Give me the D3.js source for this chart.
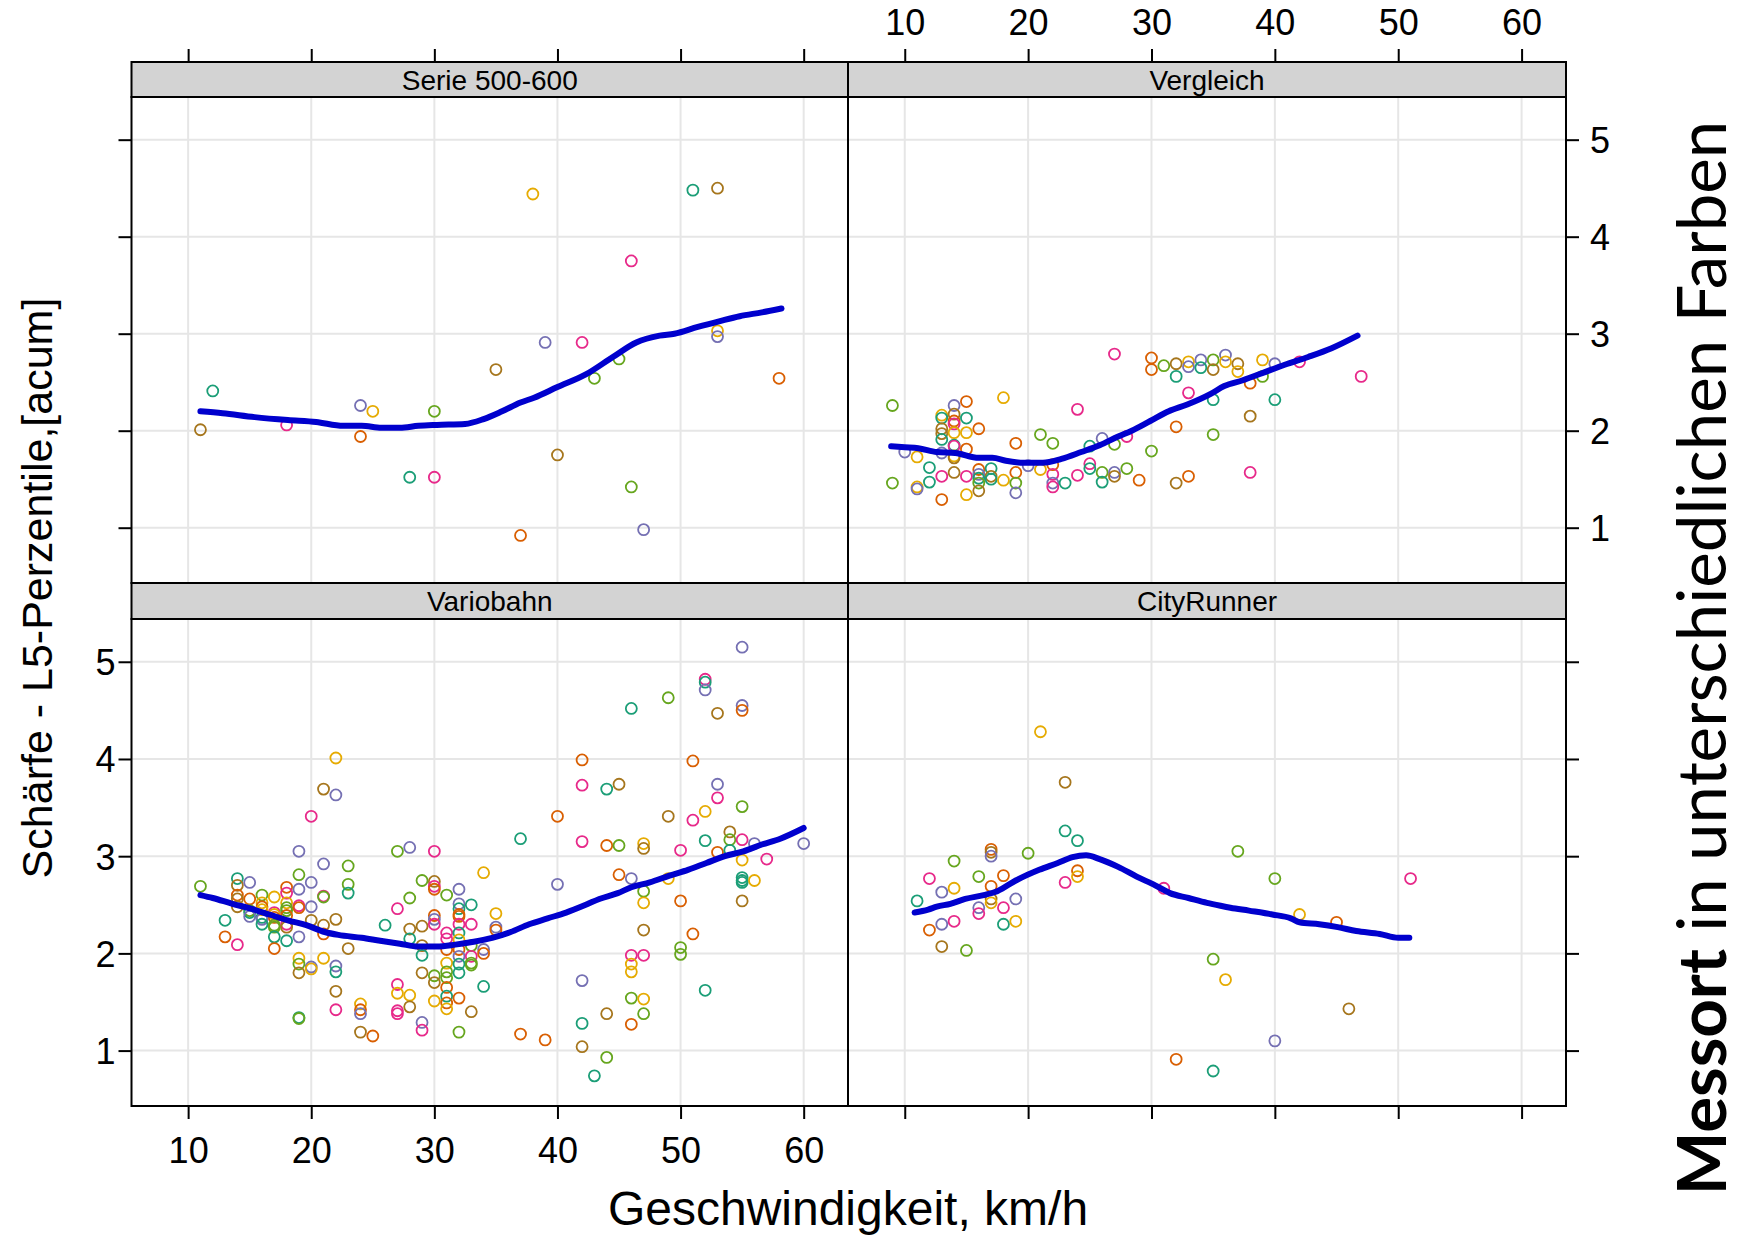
<!DOCTYPE html>
<html lang="de">
<head>
<meta charset="UTF-8">
<title>Schärfe L5-Perzentile nach Geschwindigkeit</title>
<script src="https://cdn.jsdelivr.net/npm/d3@7"></script>
<style>
  body { margin: 0; background: #fff; }
  svg { display: block; }
  .tick text { font-family: "Liberation Sans", Arial, sans-serif; font-size: 36px; fill: #000; }
</style>
</head>
<body>
<script>
// Messort -> Farbe (Dark2)
const messortColors = ['#1B9E77', '#D95F02', '#7570B3', '#E7298A', '#66A61E', '#E6AB02', '#A6761D'];

const xTicks = [10, 20, 30, 40, 50, 60];
const yTicks = [1, 2, 3, 4, 5];

// Punkte: [Geschwindigkeit, L5, Messort-Index]
const serie = [
  [11,2.01,6],[12,2.41,0],[18,2.06,3],[24,2.26,2],[25,2.20,5],[24,1.94,1],[30,2.20,4],[28,1.52,0],
  [30,1.52,3],[35,2.63,6],[38,4.44,5],[37,0.92,1],[39,2.91,2],[40,1.75,6],[42,2.91,3],[43,2.54,4],
  [45,2.74,4],[46,3.75,3],[46,1.42,4],[47,0.98,2],[51,4.48,0],[53,4.50,6],[53,3.03,5],[53,2.97,2],
  [58,2.54,1]
];

const vergleich = [
  [9,2.26,4],[9,1.46,4],[10,1.78,2],[11,1.73,5],[11,1.42,5],[11,1.40,2],[12,1.62,0],[12,1.47,0],
  [13,2.16,5],[13,2.13,0],[13,2.02,6],[13,1.97,6],[13,1.91,0],[13,1.77,2],[13,1.53,3],[13,1.29,1],
  [14,2.26,2],[14,2.17,6],[14,2.10,1],[14,2.07,3],[14,1.98,5],[14,1.85,0],[14,1.84,3],[14,1.74,5],
  [14,1.72,6],[14,1.57,6],[15,2.30,1],[15,2.13,0],[15,1.98,5],[15,1.81,1],[15,1.53,3],[15,1.34,5],
  [16,2.02,1],[16,1.60,1],[16,1.55,2],[16,1.51,0],[16,1.46,4],[16,1.38,6],[17,1.61,0],[17,1.53,6],
  [17,1.50,0],[18,2.34,5],[18,1.49,5],[19,1.87,1],[19,1.57,1],[19,1.46,4],[19,1.36,2],[20,1.64,2],
  [21,1.96,4],[21,1.60,5],[22,1.87,4],[22,1.65,1],[22,1.55,3],[22,1.46,2],[22,1.42,3],[23,1.46,0],
  [24,2.22,3],[24,1.54,3],[25,1.84,0],[25,1.66,3],[25,1.61,0],[26,1.92,2],[26,1.57,4],[26,1.47,0],
  [27,2.79,3],[27,1.86,4],[27,1.57,2],[27,1.53,6],[28,1.94,3],[28,1.61,4],[29,1.49,1],[30,2.75,1],
  [30,2.63,1],[30,1.79,4],[31,2.67,4],[32,2.69,6],[32,2.56,0],[32,2.04,1],[32,1.46,6],[33,2.71,5],
  [33,2.66,2],[33,2.39,3],[33,1.53,1],[34,2.73,2],[34,2.65,0],[35,2.73,4],[35,2.63,6],[35,2.32,0],
  [35,1.96,4],[36,2.78,2],[36,2.71,5],[37,2.69,6],[37,2.61,5],[38,2.49,1],[38,2.15,6],[38,1.57,3],
  [39,2.73,5],[39,2.56,4],[40,2.69,2],[40,2.32,0],[42,2.71,3],[47,2.56,3]
];

const variobahn = [
  [11,2.69,4],[13,2.34,0],[13,2.17,1],
  [14,2.77,0],[14,2.70,6],[14,2.60,1],[14,2.56,6],[14,2.48,6],[14,2.09,3],
  [15,2.73,2],[15,2.56,1],[15,2.44,4],[15,2.42,0],[15,2.38,2],
  [16,2.60,4],[16,2.52,5],[16,2.48,1],[16,2.45,5],[16,2.37,0],[16,2.35,2],[16,2.30,0],
  [17,2.58,5],[17,2.42,3],[17,2.40,5],[17,2.37,1],[17,2.29,4],[17,2.27,4],[17,2.17,0],[17,2.05,1],
  [18,2.68,1],[18,2.62,3],[18,2.52,5],[18,2.47,4],[18,2.44,4],[18,2.39,1],[18,2.30,3],[18,2.27,6],[18,2.13,0],
  [19,3.05,2],[19,2.81,4],[19,2.66,2],[19,2.49,3],[19,2.47,1],[19,2.17,2],[19,1.95,5],[19,1.89,4],[19,1.80,6],[19,1.34,0],[19,1.33,4],
  [20,3.41,3],[20,2.73,2],[20,2.48,2],[20,2.34,6],[20,1.86,2],[20,1.84,5],
  [21,3.69,6],[21,2.92,2],[21,2.59,3],[21,2.58,4],[21,2.29,6],[21,2.20,1],[21,1.95,5],
  [22,4.01,5],[22,3.63,2],[22,2.35,6],[22,1.87,2],[22,1.81,0],[22,1.61,6],[22,1.42,3],
  [23,2.90,4],[23,2.71,4],[23,2.62,0],[23,2.05,6],
  [24,1.48,5],[24,1.42,1],[24,1.38,2],[24,1.19,6],[25,1.15,1],[26,2.29,0],
  [27,3.05,4],[27,2.46,3],[27,1.68,3],[27,1.59,5],[27,1.41,3],[27,1.38,3],
  [28,3.09,2],[28,2.57,4],[28,2.25,6],[28,2.15,0],[28,1.57,5],[28,1.45,6],
  [29,2.75,4],[29,2.28,6],[29,2.08,6],[29,1.98,0],[29,1.80,6],[29,1.29,2],[29,1.21,3],
  [30,3.05,3],[30,2.74,6],[30,2.69,3],[30,2.66,1],[30,2.39,1],[30,2.35,2],[30,2.30,3],[30,1.77,4],[30,1.70,6],[30,1.51,5],
  [31,2.60,4],[31,2.21,3],[31,2.15,3],[31,2.04,1],[31,1.90,5],[31,1.81,4],[31,1.75,4],[31,1.65,1],[31,1.56,0],[31,1.49,1],[31,1.43,5],
  [32,2.66,2],[32,2.51,2],[32,2.46,0],[32,2.40,1],[32,2.38,1],[32,2.30,3],[32,2.21,0],[32,2.14,5],[32,2.04,1],[32,1.97,2],[32,1.89,0],[32,1.80,0],[32,1.54,1],[32,1.19,4],
  [33,2.50,0],[33,2.30,3],[33,2.08,4],[33,1.97,3],[33,1.90,4],[33,1.88,4],[33,1.40,6],
  [34,2.83,5],[34,2.04,2],[34,2.00,1],[34,1.66,0],[35,2.41,5],[35,2.27,2],[35,2.24,1],
  [37,3.18,0],[37,1.17,1],[39,1.11,1],[40,3.41,1],[40,2.71,2],
  [42,3.99,1],[42,3.73,3],[42,3.15,3],[42,1.72,2],[42,1.28,0],[42,1.04,6],[43,0.74,0],
  [44,3.69,0],[44,3.11,1],[44,1.38,6],[44,0.93,4],[45,3.74,6],[45,3.11,4],[45,2.81,1],
  [46,4.52,0],[46,2.77,2],[46,1.98,3],[46,1.89,5],[46,1.81,5],[46,1.54,4],[46,1.27,1],
  [47,3.13,5],[47,3.08,6],[47,2.64,4],[47,2.52,5],[47,2.24,6],[47,1.98,3],[47,1.53,5],[47,1.38,4],
  [49,4.63,4],[49,3.41,6],[49,2.77,5],[50,3.06,3],[50,2.54,1],[50,2.06,4],[50,1.99,4],
  [51,3.98,1],[51,3.37,3],[51,2.20,1],
  [52,4.82,3],[52,4.79,0],[52,4.71,2],[52,3.46,5],[52,3.16,0],[52,1.62,0],
  [53,4.47,6],[53,3.74,2],[53,3.60,3],[53,3.04,1],[54,3.25,6],[54,3.17,4],[54,3.06,0],
  [55,5.15,2],[55,4.55,2],[55,4.50,1],[55,3.51,4],[55,3.17,3],[55,2.96,5],[55,2.78,0],[55,2.75,0],[55,2.73,0],[55,2.54,6],
  [56,3.13,2],[56,2.75,5],[57,2.97,3],[60,3.13,2]
];

const cityRunner = [
  [11,2.54,0],[12,2.77,3],[12,2.24,1],[13,2.63,2],[13,2.30,2],[13,2.07,6],[14,2.95,4],[14,2.67,5],
  [14,2.33,3],[15,2.03,4],[16,2.79,4],[16,2.47,2],[16,2.41,3],[17,3.07,1],[17,3.04,6],[17,3.00,2],
  [17,2.69,1],[17,2.56,6],[17,2.52,5],[18,2.80,1],[18,2.47,3],[18,2.30,0],[19,2.56,2],[19,2.33,5],
  [20,3.03,4],[21,4.28,5],[23,3.76,6],[23,3.26,0],[23,2.73,3],[24,3.16,0],[24,2.85,1],[24,2.79,5],
  [31,2.67,3],[32,0.91,1],[35,1.94,4],[35,0.79,0],[36,1.73,5],[37,3.05,4],[40,2.77,4],[40,1.10,2],
  [42,2.40,5],[45,2.32,1],[46,1.43,6],[51,2.77,3]
];

// Glättungskurven: [Geschwindigkeit, L5]
const serieLine = [
  [11.0,2.20],[12.8,2.18],[15.4,2.14],[18.1,2.11],[20.4,2.09],[22.6,2.05],[24.1,2.05],[25.7,2.03],
  [27.2,2.03],[28.7,2.05],[30.2,2.06],[32.5,2.07],[34.0,2.12],[35.5,2.20],[37.0,2.29],[38.1,2.34],
  [40.0,2.45],[42.3,2.58],[44.5,2.76],[46.4,2.91],[48.3,2.98],[49.5,3.00],[51.4,3.07],[53.2,3.13],
  [54.8,3.18],[56.6,3.22],[58.2,3.26]
];
const vergleichLine = [
  [8.9,1.84],[10.0,1.83],[11.1,1.82],[12.6,1.78],[14.1,1.77],[16.0,1.72],[17.1,1.72],[18.2,1.69],
  [19.7,1.67],[21.2,1.67],[22.7,1.71],[24.3,1.78],[25.8,1.85],[27.3,1.94],[28.4,2.00],[29.9,2.10],
  [31.4,2.20],[32.9,2.27],[34.8,2.38],[35.9,2.46],[37.4,2.52],[38.9,2.59],[40.8,2.68],[42.7,2.76],
  [44.6,2.85],[46.7,2.98]
];
const variobahnLine = [
  [11.0,2.60],[12.0,2.57],[13.6,2.51],[15.1,2.46],[16.6,2.40],[18.1,2.34],[19.6,2.29],[21.1,2.22],
  [22.2,2.19],[24.1,2.16],[25.6,2.13],[27.2,2.10],[28.7,2.07],[30.2,2.07],[31.7,2.09],[33.2,2.12],
  [34.7,2.16],[36.2,2.22],[37.7,2.30],[39.2,2.36],[40.7,2.42],[42.3,2.50],[43.4,2.56],[44.9,2.62],
  [46.0,2.68],[47.5,2.73],[49.1,2.80],[50.6,2.86],[52.1,2.93],[53.6,3.00],[55.1,3.05],[56.6,3.12],
  [58.1,3.18],[60.0,3.29]
];
const cityRunnerLine = [
  [10.8,2.42],[11.9,2.45],[12.6,2.48],[13.7,2.51],[14.9,2.56],[16.4,2.60],[17.5,2.64],[19.0,2.75],
  [20.9,2.86],[22.4,2.93],[23.6,2.99],[24.7,3.01],[25.8,2.97],[27.3,2.89],[28.8,2.79],[30.3,2.70],
  [31.5,2.62],[33.0,2.57],[34.5,2.52],[35.6,2.49],[36.4,2.47],[37.9,2.44],[39.8,2.40],[41.3,2.36],
  [42.0,2.32],[43.6,2.30],[45.1,2.27],[46.6,2.23],[48.5,2.20],[50.0,2.16],[50.9,2.16]
];

const W = 1742, H = 1239;
const xDomain = [5.4, 63.6];
const yDomain = [0.43, 5.44];
const cols = [[131.5, 848], [848, 1566]];
const rows = [{strip: 62, top: 97, bot: 583}, {strip: 583, top: 619, bot: 1106}];
const tickLen = 13;

const panels = [
  {name: 'Serie 500-600', pts: serie, line: serieLine, col: 0, row: 0},
  {name: 'Vergleich', pts: vergleich, line: vergleichLine, col: 1, row: 0},
  {name: 'Variobahn', pts: variobahn, line: variobahnLine, col: 0, row: 1},
  {name: 'CityRunner', pts: cityRunner, line: cityRunnerLine, col: 1, row: 1}
];

const svg = d3.select('body').append('svg')
  .attr('width', W).attr('height', H)
  .attr('font-family', '"Liberation Sans", Arial, sans-serif');

const defs = svg.append('defs');

panels.forEach((p, i) => {
  const [x0, x1] = cols[p.col];
  const r = rows[p.row];
  const x = d3.scaleLinear().domain(xDomain).range([x0, x1]);
  const y = d3.scaleLinear().domain(yDomain).range([r.bot, r.top]);
  const g = svg.append('g');

  defs.append('clipPath').attr('id', 'clip' + i)
    .append('rect').attr('x', x0).attr('y', r.top).attr('width', x1 - x0).attr('height', r.bot - r.top);

  // Gitter
  g.append('g').selectAll('line').data(xTicks).join('line')
    .attr('x1', d => x(d)).attr('x2', d => x(d)).attr('y1', r.top).attr('y2', r.bot)
    .attr('stroke', '#e6e6e6').attr('stroke-width', 2);
  g.append('g').selectAll('line').data(yTicks).join('line')
    .attr('y1', d => y(d)).attr('y2', d => y(d)).attr('x1', x0).attr('x2', x1)
    .attr('stroke', '#e6e6e6').attr('stroke-width', 2);

  const inner = g.append('g').attr('clip-path', `url(#clip${i})`);
  inner.selectAll('circle').data(p.pts).join('circle')
    .attr('cx', d => x(d[0])).attr('cy', d => y(d[1])).attr('r', 5.5)
    .attr('fill', 'none').attr('stroke', d => messortColors[d[2]]).attr('stroke-width', 1.8);

  inner.append('path').datum(p.line)
    .attr('d', d3.line().x(d => x(d[0])).y(d => y(d[1])).curve(d3.curveMonotoneX))
    .attr('fill', 'none').attr('stroke', '#0000CD').attr('stroke-width', 6)
    .attr('stroke-linecap', 'round').attr('stroke-linejoin', 'round');

  g.append('rect').attr('x', x0).attr('y', r.top).attr('width', x1 - x0).attr('height', r.bot - r.top)
    .attr('fill', 'none').attr('stroke', '#000').attr('stroke-width', 2);

  // Streifen
  g.append('rect').attr('x', x0).attr('y', r.strip).attr('width', x1 - x0).attr('height', r.top - r.strip)
    .attr('fill', '#d3d3d3').attr('stroke', '#000').attr('stroke-width', 2);
  g.append('text').attr('x', (x0 + x1) / 2).attr('y', (r.strip + r.top) / 2 + 10)
    .attr('text-anchor', 'middle').attr('font-size', 28).text(p.name);

  const styleAxis = (sel) => {
    sel.select('.domain').remove();
    sel.selectAll('.tick line').attr('stroke', '#000').attr('stroke-width', 2);
  };

  // x-Achse
  if (p.row === 0) {
    const ax = svg.append('g').attr('transform', `translate(0,${r.strip})`)
      .call(d3.axisTop(x).tickValues(xTicks).tickSize(tickLen).tickSizeOuter(0)
        .tickFormat(p.col === 1 ? d3.format('d') : ''));
    styleAxis(ax);
    ax.selectAll('.tick text').attr('y', -27).attr('dy', 0);
  } else {
    const ax = svg.append('g').attr('transform', `translate(0,${r.bot})`)
      .call(d3.axisBottom(x).tickValues(xTicks).tickSize(tickLen).tickSizeOuter(0)
        .tickFormat(p.col === 0 ? d3.format('d') : ''));
    styleAxis(ax);
    ax.selectAll('.tick text').attr('y', 57).attr('dy', 0);
  }

  // y-Achse
  if (p.col === 0) {
    const ay = svg.append('g').attr('transform', `translate(${x0},0)`)
      .call(d3.axisLeft(y).tickValues(yTicks).tickSize(tickLen).tickSizeOuter(0)
        .tickFormat(p.row === 1 ? d3.format('d') : ''));
    styleAxis(ay);
    ay.selectAll('.tick text').attr('x', -16).attr('dy', '0.36em');
  } else {
    const ay = svg.append('g').attr('transform', `translate(${x1},0)`)
      .call(d3.axisRight(y).tickValues(yTicks).tickSize(tickLen).tickSizeOuter(0)
        .tickFormat(p.row === 0 ? d3.format('d') : ''));
    styleAxis(ay);
    ay.selectAll('.tick text').attr('x', 24).attr('dy', '0.36em');
  }
});

// Achsentitel
svg.append('text')
  .attr('x', 848).attr('y', 1225)
  .attr('text-anchor', 'middle').attr('font-size', 48)
  .text('Geschwindigkeit, km/h');

svg.append('text')
  .attr('transform', 'translate(52,588) rotate(-90)')
  .attr('text-anchor', 'middle').attr('font-size', 43)
  .text('Schärfe - L5-Perzentile,[acum]');

const rt = svg.append('text')
  .attr('transform', 'translate(1726,658) rotate(-90)')
  .attr('text-anchor', 'middle').attr('font-size', 50)
  .attr('font-family', 'Lato, "Open Sans", sans-serif');
rt.append('tspan').attr('font-weight', 'bold').text('Messort');
rt.append('tspan').text(' in unterschiedlichen Farben');
const rtLen = rt.node().getComputedTextLength();
rt.attr('font-size', 50 * 1075 / rtLen);
</script>
</body>
</html>
